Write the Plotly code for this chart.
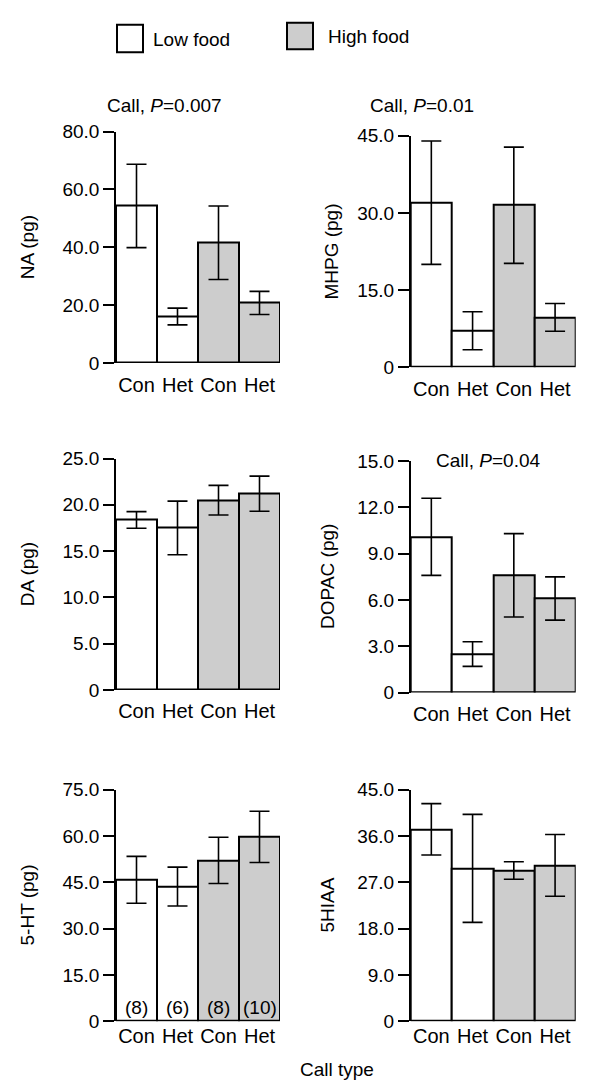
import plotly.graph_objects as go

W, H = 589, 1092

categories = ["Con", "Het", "Con", "Het"]
food = ["Low", "Low", "High", "High"]
colors = {"Low": "#ffffff", "High": "#cdcdcd"}

na_mean = [54.3, 16.1, 41.6, 20.8]
na_err = [14.4, 2.9, 12.7, 4.0]
mhpg_mean = [32.0, 7.1, 31.5, 9.7]
mhpg_err = [12.0, 3.7, 11.3, 2.7]
da_mean = [18.36, 17.5, 20.5, 21.2]
da_err = [0.9, 2.9, 1.6, 1.9]
dopac_mean = [10.1, 2.5, 7.6, 6.1]
dopac_err = [2.5, 0.8, 2.7, 1.4]
ht_mean = [45.8, 43.6, 52.1, 59.7]
ht_err = [7.6, 6.3, 7.5, 8.3]
hiaa_mean = [37.3, 29.7, 29.3, 30.3]
hiaa_err = [5.0, 10.5, 1.7, 6.0]
sample_sizes = ["(8)", "(6)", "(8)", "(10)"]

panels = [
    ("NA (pg)", na_mean, na_err, 80.0, 20.0, (116, 280, 124, 360), 27, 8),
    ("MHPG (pg)", mhpg_mean, mhpg_err, 45.0, 15.0, (410.7, 575.7, 128.3, 364.3), 332, 8),
    ("DA (pg)", da_mean, da_err, 25.0, 5.0, (116, 280, 457.3, 693.3), 27, 7),
    ("DOPAC (pg)", dopac_mean, dopac_err, 15.0, 3.0, (410.7, 575.7, 460, 696), 328, 7),
    ("5-HT (pg)", ht_mean, ht_err, 75.0, 15.0, (116, 280, 795, 1031), 27, 1),
    ("5HIAA", hiaa_mean, hiaa_err, 45.0, 9.0, (410.7, 575.7, 795, 1031), 327, 1),
]

FONT = "Liberation Sans, Arial, sans-serif"
FS = 19

fig = go.Figure()
annotations = []
shapes = []

for i, (ytitle, means, errs, ymax, step, (x0, x1, y0, y1), tx, sto) in enumerate(panels):
    n = i + 1
    xa = "x" if n == 1 else f"x{n}"
    ya = "y" if n == 1 else f"y{n}"
    fig.add_trace(go.Bar(
        x=list(range(4)), y=means, xaxis=xa, yaxis=ya,
        width=1.0,
        marker=dict(color=[colors[f] for f in food], line=dict(color="black", width=2)),
        error_y=dict(type="data", array=errs, visible=True, color="black",
                     thickness=1.6, width=10),
        showlegend=False, hoverinfo="skip",
    ))
    nt = int(round(ymax / step))
    tickvals = [k * step for k in range(nt + 1)]
    ticktext = ["0"] + [f"{v:.1f}" for v in tickvals[1:]]
    xkey = "xaxis" if n == 1 else f"xaxis{n}"
    ykey = "yaxis" if n == 1 else f"yaxis{n}"
    fig.update_layout({
        xkey: dict(domain=[x0 / W, x1 / W], range=[-0.5, 3.5], anchor=ya,
                   tickvals=list(range(4)), ticktext=categories,
                   showline=False, showgrid=False, zeroline=False, ticks="",
                   tickfont=dict(family=FONT, size=20, color="black"),
                   ticklabelstandoff=sto, fixedrange=True),
        ykey: dict(domain=[1 - y1 / H, 1 - y0 / H], range=[0, ymax], anchor=xa,
                   tickvals=tickvals, ticktext=ticktext,
                   showline=True, linecolor="black", linewidth=1.5,
                   ticks="outside", ticklen=11, tickwidth=1.5, tickcolor="black",
                   showgrid=False, zeroline=False,
                   tickfont=dict(family=FONT, size=FS, color="black"),
                   fixedrange=True),
    })
    annotations.append(dict(
        x=tx / W, y=1 - ((y0 + y1) / 2) / H, xref="paper", yref="paper",
        text=ytitle, textangle=-90, showarrow=False,
        font=dict(family=FONT, size=FS, color="black"),
        xanchor="center", yanchor="middle"))

for k, s in enumerate(sample_sizes):
    annotations.append(dict(x=k, y=0, xref="x5", yref="y5", text=s, showarrow=False,
                            yanchor="bottom", yshift=1,
                            font=dict(family=FONT, size=FS, color="black")))

for txt, cx, cy in [("Call, <i>P</i>=0.007", 164, 97),
                    ("Call, <i>P</i>=0.01", 422, 97),
                    ("Call, <i>P</i>=0.04", 488, 459),
                    ("Call type", 337, 1080)]:
    annotations.append(dict(x=cx / W, y=1 - cy / H, xref="paper", yref="paper",
                            text=txt, showarrow=False, xanchor="center", yanchor="middle",
                            font=dict(family=FONT, size=FS, color="black")))

for (bx0, by0, bx1, by1, fill, label, lx, ly) in [
        (117, 15, 143, 43, colors["Low"], "Low food", 151, 30),
        (287, 13, 313, 40, colors["High"], "High food", 326, 27)]:
    shapes.append(dict(type="rect", xref="paper", yref="paper",
                       x0=bx0 / W, x1=bx1 / W, y0=1 - by1 / H, y1=1 - by0 / H,
                       fillcolor=fill, line=dict(color="black", width=2)))
    annotations.append(dict(x=lx / W, y=1 - ly / H, xref="paper", yref="paper",
                            text=label, showarrow=False, xanchor="left", yanchor="middle",
                            font=dict(family=FONT, size=FS, color="black")))

fig.update_layout(
    width=W, height=H,
    margin=dict(l=0, r=0, t=0, b=0),
    paper_bgcolor="white", plot_bgcolor="white",
    annotations=annotations, shapes=shapes,
    bargap=0,
)

fig.write_html("out.html", config={"displayModeBar": False},
               post_script="document.body.style.margin='0';document.body.style.overflow='hidden';")
